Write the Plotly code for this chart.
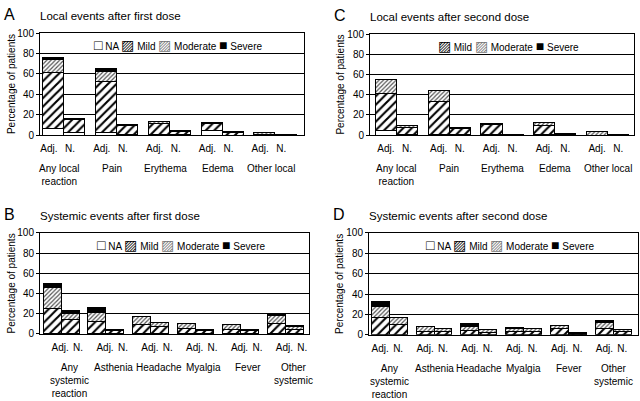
import plotly.graph_objects as go

severities = ["NA", "Mild", "Moderate", "Severe"]
arms = ["Adj.", "N."]

local_groups = ["Any local<br>reaction", "Pain", "Erythema", "Edema", "Other local"]
systemic_groups = ["Any<br>systemic<br>reaction", "Asthenia", "Headache", "Myalgia", "Fever", "Other<br>systemic"]

# segment heights (% of patients), ordered Adj., N. for each group
a_na = [6, 2, 2, 1, 1, 0.5, 4, 0, 0, 0]
a_mild = [55, 13, 51, 8, 10, 3, 7, 2.5, 0.5, 0.5]
a_moderate = [13, 1, 9.5, 1, 2, 0.5, 1.5, 0.5, 1.5, 0.5]
a_severe = [2, 0, 2.5, 0, 0, 0, 0, 0, 0, 0]

b_na = [0, 0, 0, 0, 0, 0, 0, 0, 0, 0, 0, 0]
b_mild = [25, 14, 12, 3, 9, 7, 5, 3, 4, 3.5, 10, 4.5]
b_moderate = [21, 6.5, 9, 1, 8, 4, 5, 1, 5, 0.5, 8, 2.5]
b_severe = [4, 2.5, 5, 0, 0, 0, 0, 0, 0, 0, 1.5, 1.5]

c_na = [4, 1, 1, 0.5, 1, 0, 1, 0, 0, 0]
c_mild = [37, 6, 32, 6, 9, 0.5, 8, 1, 0, 0]
c_moderate = [14, 2, 11, 0.5, 1, 0.5, 3, 0, 3, 0.5]
c_severe = [0, 0, 0, 0, 0, 0, 0, 1, 0, 0.5]

d_na = [0, 0, 0, 0, 0, 0, 0, 0, 0, 0, 0, 0]
d_mild = [17, 10, 3.5, 3, 4, 2.5, 3.5, 3, 6, 0.5, 6.5, 3]
d_moderate = [11, 7, 5, 3, 4, 3, 2.5, 3, 3, 0, 6, 2.5]
d_severe = [4.5, 0, 0, 0, 3, 0, 1, 0, 0, 1.5, 1.5, 0]

FONT = "Liberation Sans, Arial, sans-serif"

styles = {
    "NA": dict(color="white"),
    "Mild": dict(color="white", pattern=dict(shape="/", fgcolor="black", bgcolor="white",
                                             size=6, solidity=0.35, fillmode="replace")),
    "Moderate": dict(color="white", pattern=dict(shape="/", fgcolor="#555", bgcolor="white",
                                                 size=3, solidity=0.4, fillmode="replace")),
    "Severe": dict(color="black"),
}

panels = [
    dict(key="", letter="A", title="Local events after first dose", groups=local_groups,
         data=[a_na, a_mild, a_moderate, a_severe], dom_x=(40, 304), dom_y=(28, 133),
         rng=[-0.45, 4.55], shift=-0.08, legend=True),
    dict(key="2", letter="B", title="Systemic events after first dose", groups=systemic_groups,
         data=[b_na, b_mild, b_moderate, b_severe], dom_x=(40, 309), dom_y=(234, 338),
         rng=[-0.47, 5.53], shift=0.18, legend=True),
    dict(key="3", letter="C", title="Local events after second dose", groups=local_groups,
         data=[c_na, c_mild, c_moderate, c_severe], dom_x=(370, 634), dom_y=(29, 133),
         rng=[-0.5, 4.5], shift=0, legend=False),
    dict(key="4", letter="D", title="Systemic events after second dose", groups=systemic_groups,
         data=[d_na, d_mild, d_moderate, d_severe], dom_x=(369, 638), dom_y=(234, 339),
         rng=[-0.45, 5.55], shift=0, legend=True),
]

W, H = 640, 401
fig = go.Figure()
annotations = []

sw = "<span style='font-size:14px'>%s</span>"
for p in panels:
    n = len(p["groups"])
    xs = [g + off for g in range(n) for off in (-0.2, 0.2)]
    xa, ya = "x" + p["key"], "y" + p["key"]
    for sev, vals in zip(severities, p["data"]):
        fig.add_trace(go.Bar(
            x=xs, y=[v if v else None for v in vals], width=0.4,
            xaxis=xa, yaxis=ya, name=sev, showlegend=False,
            marker=dict(line=dict(color="black", width=1), **styles[sev]),
        ))

    x0, x1 = p["dom_x"]
    y0, y1 = p["dom_y"]
    fig.update_layout(**{
        "xaxis" + p["key"]: dict(
            domain=[x0 / W, x1 / W], range=p["rng"], anchor=ya,
            tickvals=[g + off + p["shift"] for g in range(n) for off in (-0.2, 0.2)],
            ticktext=arms * n, ticks="", ticklabelstandoff=4,
            showline=True, linecolor="black", linewidth=1, mirror=True,
            showgrid=False, zeroline=False,
            tickfont=dict(size=10, color="black", family=FONT),
        ),
        "yaxis" + p["key"]: dict(
            domain=[1 - y1 / H, 1 - y0 / H], range=[0, 100], anchor=xa,
            tickvals=[0, 20, 40, 60, 80, 100], ticks="outside", ticklen=3,
            tickcolor="black", showline=True, linecolor="black", linewidth=1, mirror=True,
            showgrid=True, gridcolor="black", gridwidth=1, zeroline=False,
            tickfont=dict(size=10, color="black", family=FONT),
        ),
    })

    # category labels under the Adj./N. pairs
    for g, name in enumerate(p["groups"]):
        annotations.append(dict(
            x=g + p["shift"], y=-0.255, xref=xa, yref=ya + " domain",
            text=name, showarrow=False, yanchor="top", xanchor="center",
            font=dict(size=10, color="black", family=FONT),
        ))

    # panel letter and title
    annotations.append(dict(
        x=(x0 - 38) / W, y=1 - (y0 - 19) / H, xref="paper", yref="paper",
        text=p["letter"], showarrow=False, xanchor="left", yanchor="middle",
        font=dict(size=16, color="black", family=FONT),
    ))
    annotations.append(dict(
        x=(x0 - 2) / W, y=1 - (y0 - 18) / H, xref="paper", yref="paper",
        text=p["title"], showarrow=False, xanchor="left", yanchor="middle",
        font=dict(size=11.5, color="black", family=FONT),
    ))

    # y axis title
    annotations.append(dict(
        x=(x0 - 29) / W, y=1 - (y0 + y1) / 2 / H, xref="paper", yref="paper",
        text="Percentage of patients", textangle=-90, showarrow=False,
        xanchor="center", yanchor="middle",
        font=dict(size=10, color="black", family=FONT),
    ))

    # legend inside the plot area
    leg = ((sw % "\u25a1") + " NA " if p["legend"] else "") + \
        (sw % "\u25a8") + " Mild " + \
        "<span style='font-size:14px;color:#777'>\u25a8</span> Moderate " + \
        (sw % "\u25a0") + " Severe"
    annotations.append(dict(
        x=(x0 + x1) / 2 / W + 0.01, y=1 - (y0 + 12) / H, xref="paper", yref="paper",
        text=leg, showarrow=False, xanchor="center", yanchor="middle",
        font=dict(size=10, color="black", family=FONT),
    ))

fig.update_layout(
    width=W, height=H, barmode="stack",
    margin=dict(l=0, r=0, t=0, b=0),
    plot_bgcolor="white", paper_bgcolor="white",
    annotations=annotations,
    font=dict(family=FONT, color="black"),
)

fig.write_html("out.html", config={"displayModeBar": False},
               post_script="document.body.style.margin='0';")
